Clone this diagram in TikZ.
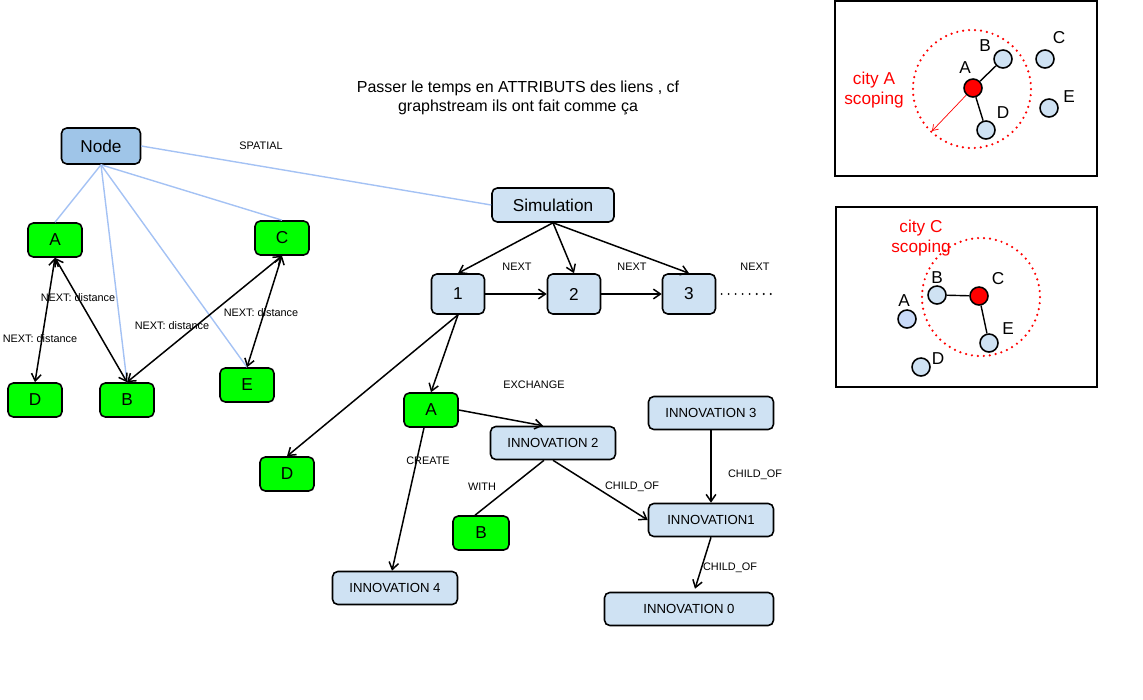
\documentclass[tikz,border=0pt]{standalone}
\usepackage{fontspec}
\setmainfont{Liberation Sans}
\usetikzlibrary{arrows.meta}
\definecolor{boxblue}{HTML}{CFE2F3}
\definecolor{nodeblue}{HTML}{9FC5E8}
\definecolor{linkblue}{HTML}{A4C2F4}
\definecolor{cityblue}{HTML}{C9DAF8}
\begin{document}
\begin{tikzpicture}[x=0.02cm, y=-0.02cm,
    box/.style={draw, rounded corners=3pt, line width=0.9pt, inner sep=0pt, font=\fontsize{9.8}{11}\selectfont},
    bluebox/.style={box, fill=boxblue},
    greenbox/.style={box, fill=green, minimum width=1.08cm, minimum height=0.68cm},
    stepbox/.style={bluebox, minimum width=1.06cm, minimum height=0.8cm},
    innobox/.style={bluebox, minimum width=2.5cm, minimum height=0.66cm, font=\fontsize{7.5}{9}\selectfont},
    link/.style={linkblue, line width=0.8pt},
    rel/.style={line width=0.85pt, -{Straight Barb[length=4pt,width=5.5pt]}},
    birel/.style={line width=0.85pt, {Straight Barb[length=4pt,width=5.5pt]}-{Straight Barb[length=4pt,width=5.5pt]}},
    lbl/.style={font=\fontsize{6.2}{7}\selectfont, inner sep=0pt},
    city/.style={circle, draw, fill=boxblue, line width=0.9pt, minimum size=0.36cm, inner sep=0pt},
    citytxt/.style={font=\fontsize{9.8}{11}\selectfont, inner sep=0pt},
    scoping/.style={red, line width=1.4pt, line cap=round, dash pattern=on 0pt off 3.4pt}]
\useasboundingbox (0,0) rectangle (1143,700);

% title
\node[font=\fontsize{9.1}{11}\selectfont, align=center] (title) at (518,98)
  {Passer le temps en ATTRIBUTS des liens , cf\\graphstream ils ont fait comme ça};

% spatial graph
\node[box, fill=nodeblue, minimum width=1.58cm, minimum height=0.72cm] (node) at (101,146) {Node};
\node[greenbox] (a) at (55,240) {A};
\node[greenbox] (c) at (282,238) {C};
\node[greenbox] (d) at (35,400) {D};
\node[greenbox] (b) at (127,400) {B};
\node[greenbox] (e) at (247,385) {E};

\draw[link] (node.south) -- (a.north);
\draw[link] (node.south) -- (b.north);
\draw[link] (node.south) -- (e.north);
\draw[link] (node.south) -- (c.north);

\draw[birel] (a.south) -- (d.north);
\draw[birel] (a.south) -- (b.north);
\draw[birel] (c.south) -- (b.north);
\draw[birel] (c.south) -- (e.north);

\node[lbl] (spatial) at (261,146) {SPATIAL};
\node[lbl] (distab) at (78,298) {NEXT: distance};
\node[lbl] (distad) at (40,339) {NEXT: distance};
\node[lbl] (distcb) at (172,326) {NEXT: distance};
\node[lbl] (distce) at (261,313) {NEXT: distance};

% simulation steps
\node[bluebox, minimum width=2.44cm, minimum height=0.68cm] (sim) at (553,205) {Simulation};
\node[stepbox] (s1) at (458,294) {1};
\node[stepbox] (s2) at (574,294) {2};
\node[stepbox] (s3) at (689,294) {3};
\coordinate (more) at (772,294);

\draw[link] (node.east) -- (sim.west);
\draw[rel] (sim.south) -- (s1.north);
\draw[rel] (sim.south) -- (s2.north);
\draw[rel] (sim.south) -- (s3.north);
\draw[rel] (s1.east) -- (s2.west);
\draw[rel] (s2.east) -- (s3.west);
\draw[line width=1.2pt, line cap=round, dash pattern=on 0pt off 4pt] ([xshift=3pt]s3.east) -- (more);

\node[lbl] (next1) at (517,267) {NEXT};
\node[lbl] (next2) at (632,267) {NEXT};
\node[lbl] (next3) at (755,267) {NEXT};

% exchanges and innovations
\node[greenbox] (alow) at (431,410) {A};
\node[greenbox] (dlow) at (287,474) {D};
\node[greenbox, minimum width=1.12cm] (blow) at (481,533) {B};
\node[innobox] (inno2) at (553,443) {INNOVATION 2};
\node[innobox] (inno3) at (711,413) {INNOVATION 3};
\node[innobox] (inno1) at (711,520) {INNOVATION1};
\node[innobox] (inno4) at (395,588) {INNOVATION 4};
\node[innobox, minimum width=3.38cm] (inno0) at (689,609) {INNOVATION 0};

\draw[rel] (s1.south) -- (dlow.north);
\draw[rel] (s1.south) -- (alow.north);
\draw[rel] (alow.east) -- ([xshift=-0.2cm]inno2.north);
\draw[rel] ([xshift=-0.14cm]alow.south) -- ([xshift=-0.06cm]inno4.north);
\draw[line width=0.85pt] ([xshift=-0.18cm]inno2.south) -- ([xshift=-0.12cm]blow.north);
\draw[rel] (inno2.south) -- (inno1.west);
\draw[rel] (inno3.south) -- (inno1.north);
\draw[rel] (inno1.south) -- ([xshift=0.12cm,yshift=0.06cm]inno0.north);

\node[lbl] (exchange) at (534,385) {EXCHANGE};
\node[lbl] (create) at (428,461) {CREATE};
\node[lbl] (with) at (482,487) {WITH};
\node[lbl] (child2) at (632,487) {CHILD\_OF};
\node[lbl] (child3) at (755,475) {CHILD\_OF};
\node[lbl] (child1) at (730,568) {CHILD\_OF};

% city A scoping
\draw[line width=0.7pt] (835,1) rectangle (1097,176);
\draw[scoping] (972,89) circle[radius=1.18cm];
\node[city, fill=red] (pa) at (973,88) {};
\node[city] (pb) at (1003,59) {};
\node[city] (pc) at (1045,59) {};
\node[city] (pe) at (1049,108) {};
\node[city] (pd) at (986,130) {};
\coordinate (reach) at (932,131);
\draw[line width=0.8pt] (pa) -- (pb);
\draw[line width=0.8pt] (pa) -- (pd);
\draw[red, line width=0.4pt, -{Straight Barb[length=3pt,width=4pt]}] (pa) -- (reach);
\node[citytxt] (ta) at (965,68) {A};
\node[citytxt] (tb) at (985,46) {B};
\node[citytxt] (tc) at (1059,38) {C};
\node[citytxt] (te) at (1069,97) {E};
\node[citytxt] (td) at (1003,113) {D};
\node[citytxt, red, align=center] (cityA) at (874,90) {city A\\scoping};

% city C scoping
\draw[line width=0.7pt] (836,207) rectangle (1097,387);
\draw[scoping] (981,297) circle[radius=1.18cm];
\node[city, fill=red] (qc) at (979,296) {};
\node[city] (qb) at (937,295) {};
\node[city, fill=cityblue] (qa) at (907,319) {};
\node[city] (qe) at (989,343) {};
\node[city] (qd) at (921,367) {};
\draw[line width=0.8pt] (qb) -- (qc);
\draw[line width=0.8pt] (qc) -- (qe);
\node[citytxt] (ua) at (904,301) {A};
\node[citytxt] (ub) at (937,278) {B};
\node[citytxt] (uc) at (998,279) {C};
\node[citytxt] (ue) at (1008,329) {E};
\node[citytxt] (ud) at (938,359) {D};
\node[citytxt, red, align=center] (cityC) at (921,238) {city C\\scoping};
\end{tikzpicture}
\end{document}
